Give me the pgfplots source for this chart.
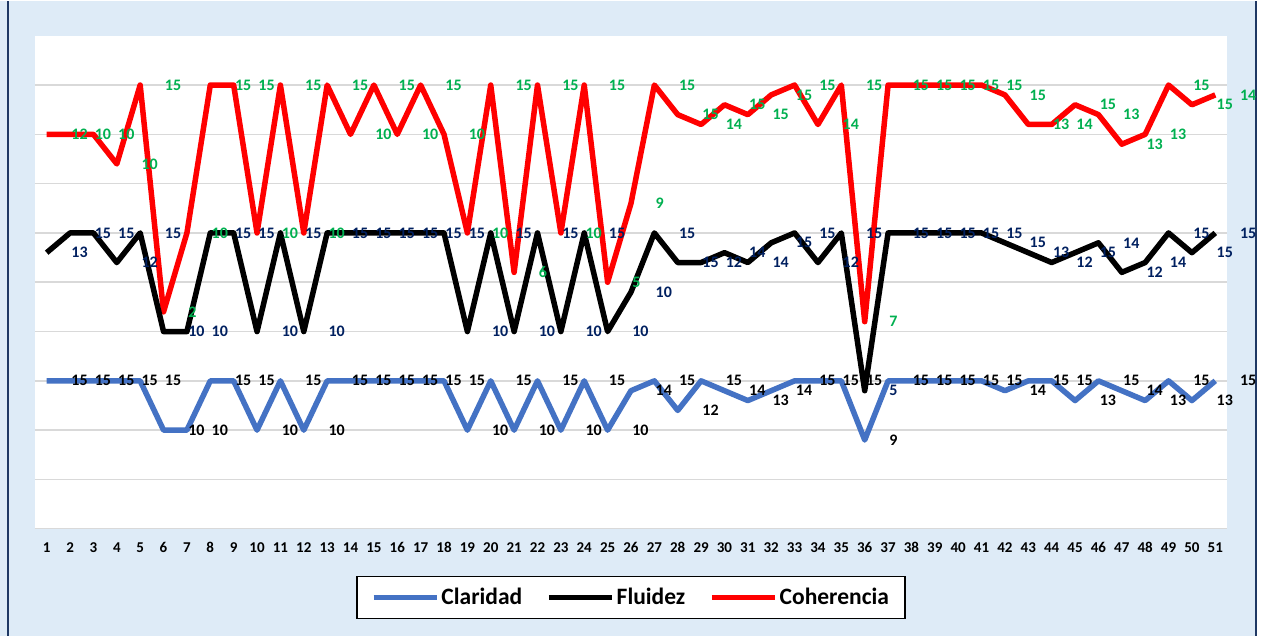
\documentclass[border=0pt]{standalone}
\usepackage{pgfplots}
\pgfplotsset{compat=1.18}
\usepackage{pgfplotstable}
\usepackage{fontspec}
\setmainfont{Carlito}
\definecolor{bgblue}{HTML}{DEEBF7}
\definecolor{frameblue}{HTML}{1F3864}
\definecolor{cblue}{HTML}{4472C4}
\definecolor{cred}{HTML}{FF0000}
\definecolor{lblnavy}{HTML}{002060}
\definecolor{lblgreen}{HTML}{00B050}
\definecolor{gridgray}{HTML}{D9D9D9}
\pgfplotstableread{
x b f c
1 15 13 12
2 15 15 10
3 15 15 10
4 15 12 10
5 15 15 15
6 10 10 2
7 10 10 10
8 15 15 15
9 15 15 15
10 10 10 10
11 15 15 15
12 10 10 10
13 15 15 15
14 15 15 10
15 15 15 15
16 15 15 10
17 15 15 15
18 15 15 10
19 10 10 10
20 15 15 15
21 10 10 6
22 15 15 15
23 10 10 10
24 15 15 15
25 10 10 5
26 14 10 9
27 15 15 15
28 12 15 15
29 15 12 14
30 14 14 15
31 13 14 15
32 14 15 15
33 15 15 15
34 15 12 14
35 15 15 15
36 9 5 7
37 15 15 15
38 15 15 15
39 15 15 15
40 15 15 15
41 15 15 15
42 14 15 15
43 15 13 13
44 15 12 14
45 13 15 15
46 15 14 13
47 14 12 13
48 13 14 13
49 15 15 15
50 13 15 15
51 15 15 14
}\data
\begin{document}
\begin{tikzpicture}[x=1pt,y=1pt]
\fill[white] (0,0) rectangle (1267,635);
\fill[bgblue] (0,0) rectangle (1256,635);
\draw[frameblue, line width=1.5pt] (1256,0) -- (1256,635);
\draw[frameblue, line width=1.5pt] (8,0) -- (8,635);
\fill[white] (35,107) rectangle (1227,600);
\begin{axis}[
  at={(35pt,107pt)}, anchor=south west,
  scale only axis, width=1192pt, height=493pt,
  xmin=0.5, xmax=51.5, ymin=0, ymax=50,
  stack plots=y,
  axis line style={draw=none},
  xtick={1,...,51},
  ytick={0,5,...,45},
  yticklabels={},
  major tick length=0pt,
  ymajorgrids,
  major grid style={gridgray, line width=1.5pt},
  /pgf/number format/assume math mode=true,
  xticklabel style={font=\bfseries\fontsize{15}{15}\selectfont, yshift=-10pt},
  clip=false,
  point meta=explicit,
  nodes near coords,
  every node near coord/.append style={anchor=west, xshift=22pt, inner sep=0pt, font=\bfseries\fontsize{16}{16}\selectfont},
  legend style={at={(rel axis cs:0.5,0)}, anchor=north, yshift=-47pt,
    legend columns=3, draw=black, line width=1.2pt, fill=white,
    font=\bfseries\fontsize{23.5}{23.5}\selectfont,
    inner xsep=14pt, inner ysep=10pt,
    /tikz/every even column/.append style={column sep=22pt}},
  legend image code/.code={\draw[#1, line width=5.5pt] (0pt,0pt) -- (63pt,0pt);},
]
\addplot[cblue, line width=5.5pt, line join=round, mark=none,
  every node near coord/.append style={black}] table[x=x, y=b, meta=b] {\data};
\addlegendentry{Claridad}
\addplot[black, line width=5.5pt, line join=round, mark=none,
  every node near coord/.append style={lblnavy}] table[x=x, y=f, meta=f] {\data};
\addlegendentry{Fluidez}
\addplot[cred, line width=5.5pt, line join=round, mark=none,
  every node near coord/.append style={lblgreen}] table[x=x, y=c, meta=c] {\data};
\addlegendentry{Coherencia}
\end{axis}
\end{tikzpicture}
\end{document}
